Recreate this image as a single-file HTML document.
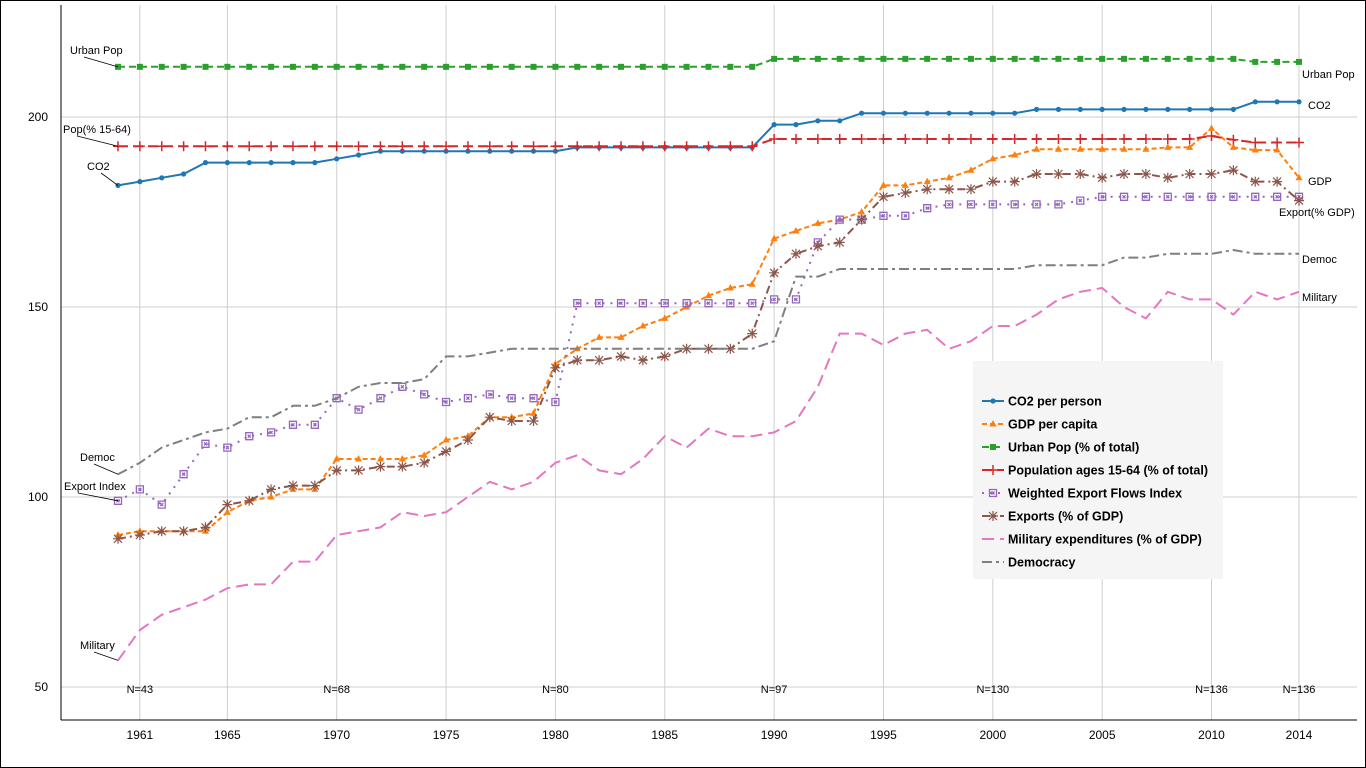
<!DOCTYPE html>
<html><head><meta charset="utf-8"><style>
body{margin:0;background:#fff;font-family:"Liberation Sans",sans-serif}
svg{display:block}
</style></head><body>
<svg id="chart" width="1366" height="768" xmlns="http://www.w3.org/2000/svg" font-family="Liberation Sans, sans-serif">
<rect x="0.5" y="0.5" width="1365" height="767" fill="#fff" stroke="#000"/>
<g id="grid"></g><g id="series"></g><g id="labels"></g>
<g id="legend"></g>
</svg>
<script>
const years=[];for(let y=1960;y<=2014;y++)years.push(y);
const xTicks=[1961,1965,1970,1975,1980,1985,1990,1995,2000,2005,2010,2014];
const yTicks=[50,100,150,200];
const co2=[182,183,184,185,188,188,188,188,188,188,189,190,191,191,191,191,191,191,191,191,191,192,192,192,192,192,192,192,192,192,198,198,199,199,201,201,201,201,201,201,201,201,202,202,202,202,202,202,202,202,202,202,204,204,204];
const gdp=[90,91,91,91,91,96,99,100,102,102,110,110,110,110,111,115,116,121,121,122,135,139,142,142,145,147,150,153,155,156,168,170,172,173,175,182,182,183,184,186,189,190,191.5,191.5,191.5,191.5,191.5,191.5,192,192,197,192,191.3,191.3,184];
const urban=[213.2,213.2,213.2,213.2,213.2,213.2,213.2,213.2,213.2,213.2,213.2,213.2,213.2,213.2,213.2,213.2,213.2,213.2,213.2,213.2,213.2,213.2,213.2,213.2,213.2,213.2,213.2,213.2,213.2,213.2,215.3,215.3,215.3,215.3,215.3,215.3,215.3,215.3,215.3,215.3,215.3,215.3,215.3,215.3,215.3,215.3,215.3,215.3,215.3,215.3,215.3,215.3,214.5,214.5,214.5];
const pop=[192.3,192.3,192.3,192.3,192.3,192.3,192.3,192.3,192.3,192.3,192.3,192.3,192.3,192.3,192.3,192.3,192.3,192.3,192.3,192.3,192.3,192.3,192.3,192.3,192.3,192.3,192.3,192.3,192.3,192.3,194.2,194.2,194.2,194.2,194.2,194.2,194.2,194.2,194.2,194.2,194.2,194.2,194.2,194.2,194.2,194.2,194.2,194.2,194.2,194.2,195,194,193.3,193.3,193.3];
const expIdx=[99,102,98,106,114,113,116,117,119,119,126,123,126,129,127,125,126,127,126,126,125,151,151,151,151,151,151,151,151,151,152,152,167,173,173,174,174,176,177,177,177,177,177,177,178,179,179,179,179,179,179,179,179,179,179];
const exports=[89,90,91,91,92,98,99,102,103,103,107,107,108,108,109,112,115,121,120,120,134,136,136,137,136,137,139,139,139,143,159,164,166,167,173,179,180,181,181,181,183,183,185,185,185,184,185,185,184,185,185,186,183,183,178];
const military=[57,65,69,71,73,76,77,77,83,83,90,91,92,96,95,96,100,104,102,104,109,111,107,106,110,116,113,118,116,116,117,120,129,143,143,140,143,144,139,141,145,145,148,152,154,155,150,147,154,152,152,148,154,152,154];
const democ=[106,109,113,115,117,118,121,121,124,124,126,129,130,130,131,137,137,138,139,139,139,139,139,139,139,139,139,139,139,139,141,158,158,160,160,160,160,160,160,160,160,160,161,161,161,161,163,163,164,164,164,165,164,164,164];
const nYears=[1961,1970,1980,1990,2000,2010,2014];
const nLabels=["N=43","N=68","N=80","N=97","N=130","N=136","N=136"];

const NS="http://www.w3.org/2000/svg";
const X=y=>118+(y-1960)*(1299-118)/54;
const Y=v=>687-(v-50)*3.8;
function mk(tag,attrs,parent,text){const e=document.createElementNS(NS,tag);for(const k in attrs)e.setAttribute(k,attrs[k]);if(text!==undefined)e.textContent=text;parent.appendChild(e);return e;}
const grid=document.getElementById('grid'),ser=document.getElementById('series'),lab=document.getElementById('labels'),leg=document.getElementById('legend');
xTicks.forEach(t=>{const l=mk('line',{x1:X(t),x2:X(t),y1:5,y2:720,stroke:'#cfcfcf'},grid);

const tx=mk('text',{x:X(t),y:739,'font-size':12,'text-anchor':'middle'},lab,t);
});
yTicks.forEach(t=>{const l=mk('line',{x1:61,x2:1357,y1:Y(t),y2:Y(t),stroke:'#cfcfcf'},grid);

const tx=mk('text',{x:48,y:Y(t)+4,'font-size':12,'text-anchor':'end'},lab,t);
});
mk('line',{x1:61,x2:61,y1:5,y2:720,stroke:'#000'},grid);
mk('line',{x1:61,x2:1357,y1:720,y2:720,stroke:'#000'},grid);

function marker(kind,x,y,c,g){
 if(kind==='dot')mk('circle',{cx:x,cy:y,r:2.6,fill:c},g);
 else if(kind==='tri')mk('path',{d:`M${x},${y-4}L${x+3.5},${y+2.5}L${x-3.5},${y+2.5}Z`,fill:c},g);
 else if(kind==='sq')mk('rect',{x:x-3,y:y-3,width:6,height:6,fill:c},g);
 else if(kind==='plus')mk('path',{d:`M${x-5},${y}H${x+5}M${x},${y-5}V${y+5}`,stroke:c,'stroke-width':1.5},g);
 else if(kind==='sqx')mk('path',{d:`M${x-3.5},${y-3.5}h7v7h-7zM${x-1.5},${y-1.5}l3,3M${x+1.5},${y-1.5}l-3,3`,stroke:c,fill:'none','stroke-width':1.3},g);
 else if(kind==='star')mk('path',{d:`M${x-5},${y}H${x+5}M${x},${y-5}V${y+5}M${x-4},${y-4}L${x+4},${y+4}M${x+4},${y-4}L${x-4},${y+4}`,stroke:c,'stroke-width':1.2},g);
}
const defs=[
 ['co2',co2,'#1f77b4','','dot','CO2 per person'],
 ['gdp',gdp,'#ff7f0e','5,3','tri','GDP per capita'],
 ['urban',urban,'#2ca02c','7,4','sq','Urban Pop (% of total)'],
 ['pop',pop,'#d62728','10,5','plus','Population ages 15-64 (% of total)'],
 ['export-index',expIdx,'#9467bd','2,6','sqx','Weighted Export Flows Index'],
 ['exports',exports,'#8c564b','8,4,2,4','star','Exports (% of GDP)'],
 ['military',military,'#e377c2','12,6','','Military expenditures (% of GDP)'],
 ['democracy',democ,'#7f7f7f','10,4,3,4','','Democracy']];
defs.forEach((d,i)=>{
 const g=mk('g',{},ser);
 
 const pts=d[1].map((v,j)=>X(years[j]).toFixed(1)+','+Y(v).toFixed(1)).join(' ');
 mk('polyline',{points:pts,fill:'none',stroke:d[2],'stroke-width':2,'stroke-dasharray':d[3]},g);
 if(d[4])d[1].forEach((v,j)=>marker(d[4],X(years[j]),Y(v),d[2],g));
 const ly=401+i*23;
 const lg=mk('g',{},leg);
 
 mk('line',{x1:982,x2:1004,y1:ly,y2:ly,stroke:d[2],'stroke-width':2,'stroke-dasharray':d[3]},lg);
 if(d[4])marker(d[4],993,ly,d[2],lg);
 mk('text',{x:1008,y:ly+4.5,'font-size':12.5,'font-weight':'bold'},lg,d[5]);
});
leg.insertBefore(mk('rect',{x:973,y:361,width:250,height:218,fill:'#f5f5f5'},leg),leg.firstChild);
nYears.forEach((y,i)=>{const t=mk('text',{x:X(y),y:693,'font-size':11,'text-anchor':'middle'},lab,nLabels[i]);
});
const ann=[['Urban Pop',70,54,urban[0]],['Pop(% 15-64)',63,133,pop[0]],['CO2',87,170,co2[0]],['Democ',80,461,democ[0]],['Export Index',64,490,expIdx[0]],['Military',80,649,military[0]]];
ann.forEach(a=>{const t=mk('text',{x:a[1],y:a[2],'font-size':11},lab,a[0]);

mk('line',{x1:a[1]+14,y1:a[2]+3,x2:X(1960),y2:Y(a[3]),stroke:'#000','stroke-width':0.8},lab);});
const rann=[['Urban Pop',1302,78],['CO2',1308,109],['GDP',1308,185],['Export(% GDP)',1279,216],['Democ',1302,263],['Military',1302,301]];
rann.forEach(a=>{const t=mk('text',{x:a[1],y:a[2],'font-size':11},lab,a[0]);
});
</script>
</body></html>
